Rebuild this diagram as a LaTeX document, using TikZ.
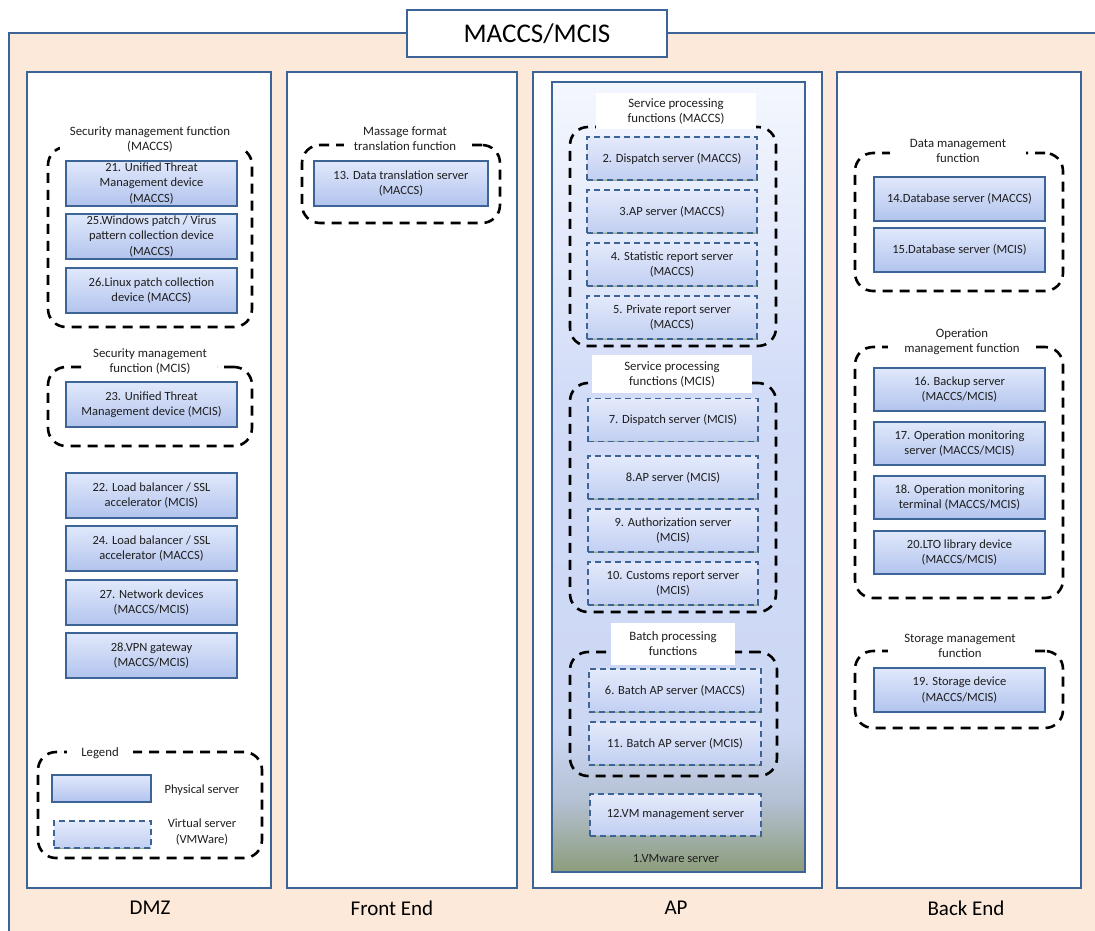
\documentclass[tikz,border=0pt]{standalone}
\usepackage{fontspec}
\setmainfont{Carlito}
\definecolor{peach}{HTML}{FDE9D9}
\definecolor{bd}{HTML}{3C6496}
\definecolor{txt}{HTML}{1E1E1E}
\definecolor{srvtop}{HTML}{E0E8FB}
\definecolor{srvbot}{HTML}{B4C5EE}
\definecolor{srvband}{HTML}{9AAE88}
\definecolor{vtop}{HTML}{E4EAFB}
\definecolor{vbot}{HTML}{C3D0F2}
\definecolor{vmtop}{HTML}{F4F7FE}
\definecolor{vmA}{HTML}{D2DCF7}
\definecolor{vmB}{HTML}{CCD7F4}
\definecolor{vmC}{HTML}{B4C0D3}
\definecolor{vmbot}{HTML}{8C9D7B}
\pgfdeclareverticalshading{srvshade}{100bp}{color(0bp)=(srvband); color(25bp)=(srvband); color(27bp)=(srvbot); color(75bp)=(srvtop); color(100bp)=(srvtop)}
\pgfdeclareverticalshading{vsrvshade}{100bp}{color(0bp)=(srvband); color(25bp)=(srvband); color(27bp)=(vbot); color(75bp)=(vtop); color(100bp)=(vtop)}
\pgfdeclareverticalshading{vmshade}{100bp}{color(0bp)=(vmbot); color(25bp)=(vmbot); color(29.5bp)=(vmC); color(34bp)=(vmB); color(55bp)=(vmA); color(75bp)=(vmtop); color(100bp)=(vmtop)}
\newcommand\boxfont{\fontsize{12.5}{15.2}\selectfont}
\newcommand\lblfont{\fontsize{12.8}{15}\selectfont}
\begin{document}
\begin{tikzpicture}[x=1pt,y=-1pt,
  every node/.style={outer sep=0pt, text=txt},
  column/.style={draw=bd, fill=white, line width=2.5pt, inner sep=0pt},
  phys/.style={draw=bd, line width=2.6pt, shading=srvshade, align=center, inner sep=1pt, font=\boxfont},
  virt/.style={draw=bd, line width=1.6pt, dash pattern=on 6pt off 4pt, shading=vsrvshade, align=center, inner sep=1pt, font=\boxfont},
  grp/.style={draw=black, line width=2.6pt, dash pattern=on 10pt off 7pt, rounded corners=18pt, inner sep=0pt},
  glabel/.style={fill=white, align=center, font=\lblfont, inner xsep=10pt, inner ysep=1pt},
  collabel/.style={font=\fontsize{21}{24}\selectfont, text=black},
  plain/.style={align=center, font=\boxfont}
]
\useasboundingbox (0,0) rectangle (1095,931);
\clip (0,0) rectangle (1095,931);
% outer frame
\node[draw=bd, fill=peach, line width=2.5pt, minimum width=1110, minimum height=920, anchor=north west] (outer) at (9,33) {};
\node[draw=bd, fill=white, line width=2.5pt, minimum width=260, minimum height=47, font=\fontsize{27}{30}\selectfont, text=black] (title) at (537,33.5) {MACCS/MCIS};
% columns
\node[column, minimum width=244, minimum height=816] (dmz) at (149,480) {};
\node[column, minimum width=230, minimum height=816] (front) at (402,480) {};
\node[column, minimum width=289, minimum height=816] (ap) at (677.5,480) {};
\node[column, minimum width=244, minimum height=816] (back) at (959,480) {};
\node[collabel] (ldmz) at (150,908) {DMZ};
\node[collabel] (lfront) at (392,908) {Front End};
\node[collabel] (lap) at (676,908) {AP};
\node[collabel] (lback) at (966,908) {Back End};

% ===== DMZ =====
\node[grp, minimum width=204, minimum height=180] (g1) at (150,237) {};
\node[glabel] (g1l) at (150,139.5) {Security management function\\(MACCS)};
\node[phys, minimum width=171, minimum height=45] (s21) at (151.5,183.5) {21. Unified Threat\\Management device\\(MACCS)};
\node[phys, minimum width=171, minimum height=45] (s25) at (151.5,236.5) {25.Windows patch / Virus\\pattern collection device\\(MACCS)};
\node[phys, minimum width=171, minimum height=45] (s26) at (151.5,290.5) {26.Linux patch collection\\device (MACCS)};
\node[grp, minimum width=204, minimum height=79] (g2) at (150,406.5) {};
\node[glabel] (g2l) at (150,361.5) {Security management\\function (MCIS)};
\node[phys, minimum width=171, minimum height=45] (s23) at (151.5,404.5) {23. Unified Threat\\Management device (MCIS)};
\node[phys, minimum width=171, minimum height=45] (s22) at (151.5,495.5) {22. Load balancer / SSL\\accelerator (MCIS)};
\node[phys, minimum width=171, minimum height=45] (s24) at (151.5,548.5) {24. Load balancer / SSL\\accelerator (MACCS)};
\node[phys, minimum width=171, minimum height=45] (s27) at (151.5,602.5) {27. Network devices\\(MACCS/MCIS)};
\node[phys, minimum width=171, minimum height=45] (s28) at (151.5,655.5) {28.VPN gateway\\(MACCS/MCIS)};
% legend
\node[grp, minimum width=224, minimum height=106] (leg) at (150,805) {};
\node[glabel, inner xsep=14pt] (legl) at (100,753) {Legend};
\node[phys, minimum width=99, minimum height=27] (legp) at (101.5,788.5) {};
\node[plain] (legpt) at (202,790) {Physical server};
\node[virt, minimum width=97, minimum height=27] (legv) at (102.5,834.5) {};
\node[plain] (legvt) at (202,832) {Virtual server\\(VMWare)};

% ===== Front End =====
\node[grp, minimum width=198, minimum height=78] (g3) at (401,184) {};
\node[glabel] (g3l) at (405,139) {Massage format\\translation function};
\node[phys, minimum width=174, minimum height=45] (s13) at (401,183.5) {13. Data translation server\\(MACCS)};

% ===== AP =====
\node[draw=bd, line width=2.5pt, shading=vmshade, minimum width=253, minimum height=790] (vm) at (678.5,477) {};
\node[plain] (vml) at (676,859) {1.VMware server};
\node[grp, minimum width=206, minimum height=219] (g4) at (673,236.5) {};
\node[glabel, minimum width=160, minimum height=36] (g4l) at (676,111) {Service processing\\functions (MACCS)};
\node[virt, minimum width=170, minimum height=43] (s2) at (672,158.5) {2. Dispatch server (MACCS)};
\node[virt, minimum width=170, minimum height=43] (s3) at (672,211.5) {3.AP server (MACCS)};
\node[virt, minimum width=170, minimum height=43] (s4) at (672,264.5) {4. Statistic report server\\(MACCS)};
\node[virt, minimum width=170, minimum height=43] (s5) at (672,317.5) {5. Private report server\\(MACCS)};
\node[grp, minimum width=206, minimum height=229] (g5) at (673,497.5) {};
\node[glabel, minimum width=160, minimum height=38] (g5l) at (672,374) {Service processing\\functions (MCIS)};
\node[virt, minimum width=170, minimum height=43] (s7) at (673,420) {7. Dispatch server (MCIS)};
\node[virt, minimum width=170, minimum height=43] (s8) at (673,477.5) {8.AP server (MCIS)};
\node[virt, minimum width=170, minimum height=43] (s9) at (673,530.5) {9. Authorization server\\(MCIS)};
\node[virt, minimum width=170, minimum height=43] (s10) at (673,583.5) {10. Customs report server\\(MCIS)};
\node[grp, minimum width=207, minimum height=124] (g6) at (673.5,714) {};
\node[glabel, minimum width=124, minimum height=42] (g6l) at (673,644) {Batch processing\\functions};
\node[virt, minimum width=172, minimum height=43] (s6) at (675,690.5) {6. Batch AP server (MACCS)};
\node[virt, minimum width=172, minimum height=43] (s11) at (675,743.5) {11. Batch AP server (MCIS)};
\node[virt, minimum width=171, minimum height=42] (s12) at (675.5,815) {12.VM management server};

% ===== Back End =====
\node[grp, minimum width=208, minimum height=138] (g7) at (959,222) {};
\node[glabel, inner xsep=20pt] (g7l) at (958,150.5) {Data management\\function};
\node[phys, minimum width=171, minimum height=44] (s14) at (959.5,199) {14.Database server (MACCS)};
\node[phys, minimum width=171, minimum height=44] (s15) at (959.5,250) {15.Database server (MCIS)};
\node[grp, minimum width=208, minimum height=251] (g8) at (959,472.5) {};
\node[glabel, inner xsep=16pt] (g8l) at (962,341.5) {Operation\\management function};
\node[phys, minimum width=171, minimum height=43] (s16) at (959.5,389.5) {16. Backup server\\(MACCS/MCIS)};
\node[phys, minimum width=171, minimum height=43] (s17) at (959.5,443.5) {17. Operation monitoring\\server (MACCS/MCIS)};
\node[phys, minimum width=171, minimum height=43] (s18) at (959.5,497.5) {18. Operation monitoring\\terminal (MACCS/MCIS)};
\node[phys, minimum width=171, minimum height=43] (s20) at (959.5,552.5) {20.LTO library device\\(MACCS/MCIS)};
\node[grp, minimum width=208, minimum height=77] (g9) at (959,689.5) {};
\node[glabel, inner xsep=16pt] (g9l) at (960,645.5) {Storage management\\function};
\node[phys, minimum width=171, minimum height=44] (s19) at (959.5,690) {19. Storage device\\(MACCS/MCIS)};
\end{tikzpicture}
\end{document}
